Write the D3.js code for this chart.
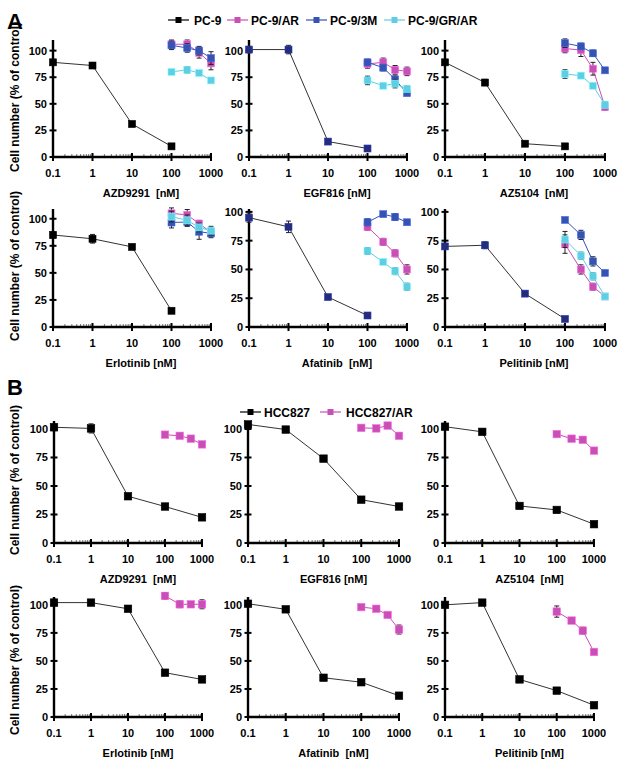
<!DOCTYPE html>
<html><head><meta charset="utf-8">
<script src="https://cdn.jsdelivr.net/npm/d3@7"></script>
<style>
html,body{margin:0;padding:0;background:#fff;}
svg text{font-family:"Liberation Sans",Arial,sans-serif;font-weight:bold;fill:#000;white-space:pre;}
</style></head>
<body><svg id="c" width="625" height="760"></svg>
<script>
// ---------- data ----------
const concSens = [0.1, 1, 10, 100];
const concHcc = [0.1, 1, 10, 100, 1000];
const concRes = [100, 250, 500, 1000];
const xTicks = [0.1, 1, 10, 100, 1000];
const xTickLabels = ["0.1", "1", "10", "100", "1000"];
const yTicks = [0, 25, 50, 75, 100];
const drugTitles = ["AZD9291  [nM]", "EGF816 [nM]", "AZ5104  [nM]", "Erlotinib [nM]", "Afatinib  [nM]", "Pelitinib [nM]"];
const legendA = ["PC-9", "PC-9/AR", "PC-9/3M", "PC-9/GR/AR"];
const legendB = ["HCC827", "HCC827/AR"];
const yLabel = "Cell number (% of control)";

// Panel A (per drug, in drugTitles order)
const pc9 = [[89,86,31,10],[101,101,14.5,8],[89,70,12.5,10],[85,81.5,74,15],[95,87,26,10],[70,71,29,7]];
const pc9Err = [[2,1.5,1.5,1],[3,4,1.5,1],[2,3,1,1],[3,4,2,1],[4,5,1,1],[2,3,1,1]];
const pc9AR = [[106,106,98,88],[87.5,89,82,80.5],[102,100.5,83,47],[105,103.5,95.5,87.5],[87,74,64,50],[72,50,35,26.5]];
const pc9ARErr = [[4,4,5,6],[4,4,4,4],[4,6,6,3],[5,5,3,4],[3,3,3,4],[8,4,3,2]];
const pc9_3M = [[105,102.5,100,93],[89,84,73,60],[107,104,97.5,81.5],[96.5,97,88,86.5],[91,98,95.5,91],[93,80,57,47]];
const pc9_3MErr = [[4,4,4,6],[3,3,4,2],[4,3,3,2],[5,4,7,4],[3,2,3,2],[2,4,4,2]];
const pc9GRAR = [[80,82,79,72],[72,67,69,64],[78,76.5,67,49],[102,98.5,92,89],[66,56.5,48.5,35],[76,62,44,26.5]];
const pc9GRARErr = [[2,3,2,2],[4,2,4,3],[4,2,2,3],[5,5,4,4],[3,2,3,3],[7,3,3,2]];

// Panel B
const hcc827 = [[101.5,100.5,41,32,22.5],[104,99.5,74,38,32],[102,97.5,32.5,29,16.5],[102,102,96.5,39.5,33.5],[101,96,35,31,19],[100,102,33.5,23.5,10.5]];
const hcc827Err = [[3,4,1,1,1],[2,1,1,1,1],[2,2,1,1,1],[3,2,1,1,1],[1,1,1,2,2],[1,1,1,1,1]];
const hcc827AR = [[95,94,91.5,86.5],[101,100.5,103,94],[95.5,91.5,90.5,81],[108,100.5,100.5,100.5],[98,96.5,91,78],[94,86,77,58]];
const hcc827ARErr = [[1,1,1,1],[1,1,1,1],[1,1,2,2],[3,3,1,4],[1,1,2,4],[5,1,3,2]];

// ---------- styles / layout ----------
const colPC9 = "#000000", colNavy = "#232c7e", colAR = "#c84fb4", col3M = "#3653b2", colGR = "#5fcde3";
const svg = d3.select("#c");

const colsA = [[53,211],[249,407],[445,605]];
const colsB = [[54,202],[248,399],[445,594]];
const rowsA = [{y0:157, top:40, ymax:[110,110,110]}, {y0:327, top:209, ymax:[109,102.5,102.5]}];
const rowsB = [{y0:543, top:421, ymax:[107,107,107]}, {y0:717, top:597, ymax:[107,107,107]}];

function drawAxes(g, x, y, y0, xl, xr, top, title, titleDx) {
  const minors = [];
  [0.1,1,10,100].forEach(d => { for (let k = 2; k <= 9; k++) minors.push(d*k); });
  g.selectAll("line.minor").data(minors).join("line").attr("class","minor")
    .attr("x1", d => x(d)).attr("x2", d => x(d)).attr("y1", y0).attr("y2", y0-3)
    .attr("stroke","#777").attr("stroke-width",1);
  g.append("line").attr("x1", xl).attr("x2", xr).attr("y1", y0).attr("y2", y0).attr("stroke","#000").attr("stroke-width",2.4);
  g.selectAll("line.xt").data(xTicks).join("line").attr("class","xt")
    .attr("x1", d => x(d)).attr("x2", d => x(d)).attr("y1", y0-4).attr("y2", y0+4).attr("stroke","#000").attr("stroke-width",2);
  g.selectAll("text.xl").data(xTicks).join("text").attr("class","xl")
    .attr("x", d => x(d)).attr("y", y0+20).attr("text-anchor","middle").attr("font-size",11)
    .text((d,i) => xTickLabels[i]);
  g.append("line").attr("x1", xl).attr("x2", xl).attr("y1", y0).attr("y2", top).attr("stroke","#000").attr("stroke-width",2.4);
  g.selectAll("line.yt").data(yTicks).join("line").attr("class","yt")
    .attr("x1", xl-3.5).attr("x2", xl+3.5).attr("y1", d => y(d)).attr("y2", d => y(d)).attr("stroke","#000").attr("stroke-width",2);
  g.selectAll("text.yl").data(yTicks).join("text").attr("class","yl")
    .attr("x", xl-6).attr("y", d => y(d)+4).attr("text-anchor","end").attr("font-size",11)
    .text(d => d);
  g.append("text").attr("x", (xl+xr)/2 + titleDx).attr("y", y0+40).attr("text-anchor","middle")
    .attr("font-size",11).text(title);
}

function drawSeries(g, x, y, concs, vals, errs, color, lineColor, size) {
  const pts = concs.map((c,i) => ({c, v: vals[i], e: errs[i]}));
  g.append("path").datum(pts)
    .attr("d", d3.line().x(d => x(d.c)).y(d => y(d.v)))
    .attr("fill","none").attr("stroke", lineColor).attr("stroke-width",1);
  const eb = g.append("g");
  pts.forEach(p => {
    eb.append("line").attr("x1", x(p.c)).attr("x2", x(p.c)).attr("y1", y(p.v-p.e)).attr("y2", y(p.v+p.e)).attr("stroke","#222").attr("stroke-width",1);
    [p.v-p.e, p.v+p.e].forEach(v => eb.append("line").attr("x1", x(p.c)-2.5).attr("x2", x(p.c)+2.5).attr("y1", y(v)).attr("y2", y(v)).attr("stroke","#222").attr("stroke-width",1));
  });
  g.selectAll(null).data(pts).join("rect")
    .attr("x", d => x(d.c)-size/2).attr("y", d => y(d.v)-size/2)
    .attr("width", size).attr("height", size).attr("fill", color)
    .attr("stroke", d3.color(color).brighter(0.8)).attr("stroke-width",0.6);
}

function panel(cols, row, ci, idx, kind) {
  const [xl, xr] = cols[ci];
  const x = d3.scaleLog().domain([0.1, 1000]).range([xl, xr]);
  const y = d3.scaleLinear().domain([0, row.ymax[ci]]).range([row.y0, row.top]);
  const g = svg.append("g");
  drawAxes(g, x, y, row.y0, xl, xr, row.top, drugTitles[idx], kind === "A" ? 9 : 10);
  if (kind === "A") {
    const navy = (idx === 1 || idx === 4 || idx === 5);
    drawSeries(g, x, y, concRes, pc9AR[idx], pc9ARErr[idx], colAR, colAR, 7);
    drawSeries(g, x, y, concRes, pc9_3M[idx], pc9_3MErr[idx], col3M, col3M, 7);
    drawSeries(g, x, y, concRes, pc9GRAR[idx], pc9GRARErr[idx], colGR, colGR, 7);
    drawSeries(g, x, y, concSens, pc9[idx], pc9Err[idx], navy ? colNavy : colPC9, "#333", 7);
  } else {
    drawSeries(g, x, y, concRes, hcc827AR[idx], hcc827ARErr[idx], colAR, colAR, 7.5);
    drawSeries(g, x, y, concHcc, hcc827[idx], hcc827Err[idx], colPC9, "#333", 7.5);
  }
}

[0,1].forEach(r => [0,1,2].forEach(c => panel(colsA, rowsA[r], c, r*3+c, "A")));
[0,1].forEach(r => [0,1,2].forEach(c => panel(colsB, rowsB[r], c, r*3+c, "B")));

[[15,97],[15,266],[15,480],[15,660]].forEach(([cx,cy]) => {
  svg.append("text").attr("transform", `translate(${cx},${cy}) rotate(-90)`)
    .attr("text-anchor","middle").attr("dy","0.35em").attr("font-size",12).text(yLabel);
});

svg.append("text").attr("x",7).attr("y",29).attr("font-size",22).text("A");
svg.append("text").attr("x",7).attr("y",395).attr("font-size",22).text("B");

function legend(items, colors, lx, tx, ly) {
  items.forEach((t,i) => {
    const g = svg.append("g");
    g.append("line").attr("x1", lx[i]).attr("x2", lx[i]+21).attr("y1", ly).attr("y2", ly).attr("stroke", colors[i]).attr("stroke-width",1.2);
    g.append("rect").attr("x", lx[i]+10.5-3).attr("y", ly-3).attr("width",6).attr("height",6).attr("fill", colors[i]);
    g.append("text").attr("x", tx[i]).attr("y", ly+4.5).attr("font-size",12).text(t);
  });
}
legend(legendA, [colPC9, colAR, col3M, colGR], [168,227,306,384], [194,251,330,408], 20);
legend(legendB, [colPC9, colAR], [240,320], [264,346], 412);
</script></body></html>
